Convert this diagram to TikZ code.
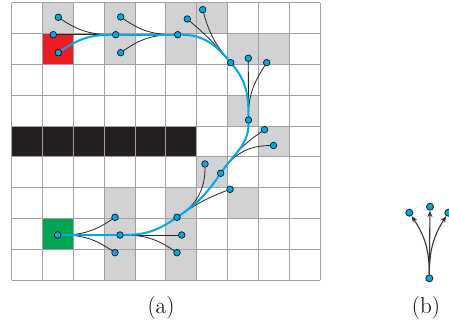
\documentclass[tikz,border=0pt]{standalone}
\usetikzlibrary{arrows.meta}
\definecolor{cellgray}{RGB}{209,210,212}
\definecolor{gridgray}{RGB}{160,160,160}
\definecolor{goalred}{RGB}{237,28,36}
\definecolor{startgreen}{RGB}{0,166,81}
\definecolor{obst}{RGB}{35,31,32}
\definecolor{pathblue}{RGB}{0,170,230}
\pgfdeclarelayer{gridlayer}
\pgfdeclarelayer{edgelayer}
\pgfsetlayers{gridlayer,edgelayer,main}
\begin{document}
\begin{tikzpicture}[x=1pt,y=1pt,
  dot/.style={circle,draw=black,fill=pathblue,line width=0.6pt,inner sep=0pt,minimum size=6.6pt},
  bdot/.style={dot,line width=0.9pt,minimum size=7pt,draw=black!85},
  edge/.style={draw=black!85,line width=0.8pt},
  pathline/.style={draw=pathblue,line width=2pt},
  arr/.style={draw=black!80,line width=1.1pt,-{Stealth[length=6.5pt,width=5pt]}},
  lbl/.style={font=\fontsize{23}{27}\selectfont,inner sep=0pt}
]
\useasboundingbox (0,0) rectangle (449,332);

% grid
\begin{pgfonlayer}{gridlayer}
\begin{scope}[shift={(11.7,51.65)}, x=30.85pt, y=30.85pt]
  \foreach \c/\j in {1/8,3/8,5/8,6/8, 3/7,5/7,7/7,8/7, 7/5, 8/4, 6/3, 3/2,5/2,7/2, 3/1,5/1, 3/0,5/0}
    \fill[cellgray] (\c,\j) rectangle ++(1,1);
  \fill[goalred] (1,7) rectangle ++(1,1);
  \fill[startgreen] (1,1) rectangle ++(1,1);
  \foreach \c in {0,...,5}
    \fill[obst] (\c,4) rectangle ++(1,1);
  \foreach \c in {0,...,10}
    \draw[gridgray, line width=1pt] (\c,0) -- (\c,9);
  \foreach \j in {0,...,9}
    \draw[gridgray, line width=1pt] (0,\j) -- (10,\j);
\end{scope}
\end{pgfonlayer}

% nodes (a)
\node[dot] (S)  at (57.7,97) {};
\node[dot] (A1) at (115,114.7) {};
\node[dot] (A2) at (120,97) {};
\node[dot] (A3) at (115,79.3) {};
\node[dot] (B1) at (177,114.7) {};
\node[dot] (B2) at (181.7,97) {};
\node[dot] (B3) at (177,79.3) {};
\node[dot] (C1) at (205,168) {};
\node[dot] (C2) at (220.7,158.7) {};
\node[dot] (C3) at (230,142.7) {};
\node[dot] (D1) at (248.5,212) {};
\node[dot] (D2) at (264.5,202.3) {};
\node[dot] (D3) at (273.5,186.5) {};
\node[dot] (E1) at (230.7,269.3) {};
\node[dot] (E2) at (248.3,273.7) {};
\node[dot] (E3) at (266.7,269.3) {};
\node[dot] (F1) at (177.7,297.3) {};
\node[dot] (F2) at (187.3,313) {};
\node[dot] (F3) at (202.7,322.3) {};
\node[dot] (G1) at (115.7,297.3) {};
\node[dot] (G2) at (120.7,315) {};
\node[dot] (G3) at (120.7,279.3) {};
\node[dot] (H1) at (53.3,297.3) {};
\node[dot] (H2) at (58.3,314.7) {};
\node[dot] (H3) at (58.3,279.3) {};

\begin{pgfonlayer}{edgelayer}
  % expansion primitives
  \draw[edge] (S) to[out=0,in=214.4] (A1);
  \draw[edge] (S) -- (A2);
  \draw[edge] (S) to[out=0,in=145.6] (A3);
  \draw[edge] (A2) -- (B2);
  \draw[edge] (A2) to[out=0,in=145.5] (B3);
  \draw[edge] (B1) to[out=34.5,in=270] (C1);
  \draw[edge] (B1) to[out=34.5,in=201] (C3);
  \draw[edge] (C2) to[out=55,in=214.8] (D2);
  \draw[edge] (C2) to[out=55,in=180.6] (D3);
  \draw[edge] (D1) -- (E2);
  \draw[edge] (D1) to[out=90,in=237.2] (E3);
  \draw[edge] (E1) to[out=130,in=319.6] (F2);
  \draw[edge] (E1) to[out=130,in=285.6] (F3);
  \draw[edge] (F1) to[out=180,in=325.5] (G2);
  \draw[edge] (F1) to[out=180,in=35] (G3);
  \draw[edge] (G1) -- (H1);
  \draw[edge] (G1) to[out=180,in=326.2] (H2);
  % path
  \draw[pathline] (S) -- (A2);
  \draw[pathline] (A2) to[out=0,in=214.5] (B1);
  \draw[pathline] (B1) to[out=34.5,in=235] (C2);
  \draw[pathline] (C2) to[out=55,in=270] (D1);
  \draw[pathline] (D1) to[out=90,in=310] (E1);
  \draw[pathline] (E1) to[out=130,in=0] (F1);
  \draw[pathline] (F1) -- (G1);
  \draw[pathline] (G1) to[out=180,in=34.8] (H3);
\end{pgfonlayer}

% (b)
\node[bdot] (bb) at (429.3,53.7) {};
\node[bdot] (bl) at (409.3,119.3) {};
\node[bdot] (bm) at (430,125.3) {};
\node[bdot] (br) at (448.3,119.3) {};
\begin{pgfonlayer}{edgelayer}
\draw[arr] (bb) to[out=90,in=-56] (bl);
\draw[arr] (bb) -- (bm);
\draw[arr] (bb) to[out=90,in=237.7] (br);
\end{pgfonlayer}

% labels
\node[lbl] (la) at (161,24) {(a)};
\node[lbl] (lb) at (426,24) {(b)};
\end{tikzpicture}
\end{document}
